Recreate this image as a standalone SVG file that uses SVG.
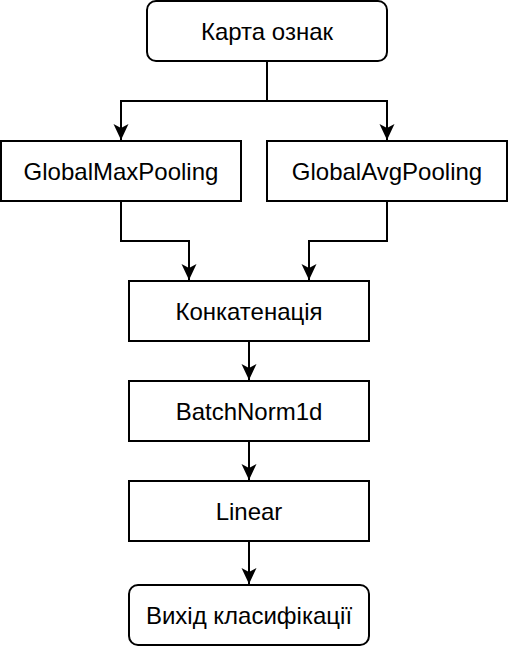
<svg xmlns="http://www.w3.org/2000/svg" width="510" height="646" viewBox="0 0 510 646">
<style>
.box{fill:#fff;stroke:#000;stroke-width:2}
.lbl{font-family:"Liberation Sans",Arial,sans-serif;font-size:24px;fill:#000;text-anchor:middle;dominant-baseline:central}
.edge{fill:none;stroke:#000;stroke-width:2}
</style>
<defs>
<marker id="arr" markerUnits="userSpaceOnUse" markerWidth="18" markerHeight="18" viewBox="0 0 18 18" refX="16" refY="9" orient="auto">
<path d="M0,1.5 L16,9 L0,16.5 L4,9 Z" fill="#000"/>
</marker>
</defs>
<g id="edges">
<path class="edge" d="M267,61 V101 H121 V140" marker-end="url(#arr)"/>
<path class="edge" d="M267,101 H387 V140" marker-end="url(#arr)"/>
<path class="edge" d="M121,201 V241 H189 V280" marker-end="url(#arr)"/>
<path class="edge" d="M387,201 V241 H309 V280" marker-end="url(#arr)"/>
<path class="edge" d="M249,341 V380" marker-end="url(#arr)"/>
<path class="edge" d="M249,441 V480" marker-end="url(#arr)"/>
<path class="edge" d="M249,541 V584" marker-end="url(#arr)"/>
</g>
<g id="n1"><rect class="box" x="147" y="1" width="240" height="60" rx="9"/><text class="lbl" x="267" y="31">Карта ознак</text></g>
<g id="n2"><rect class="box" x="1" y="141" width="240" height="60"/><text class="lbl" x="121" y="171">GlobalMaxPooling</text></g>
<g id="n3"><rect class="box" x="267" y="141" width="240" height="60"/><text class="lbl" x="387" y="171">GlobalAvgPooling</text></g>
<g id="n4"><rect class="box" x="129" y="281" width="240" height="60"/><text class="lbl" x="249" y="311">Конкатенація</text></g>
<g id="n5"><rect class="box" x="129" y="381" width="240" height="60"/><text class="lbl" x="249" y="411">BatchNorm1d</text></g>
<g id="n6"><rect class="box" x="129" y="481" width="240" height="60"/><text class="lbl" x="249" y="511">Linear</text></g>
<g id="n7"><rect class="box" x="129" y="585" width="240" height="60" rx="9"/><text class="lbl" x="249" y="615">Вихід класифікації</text></g>
</svg>
